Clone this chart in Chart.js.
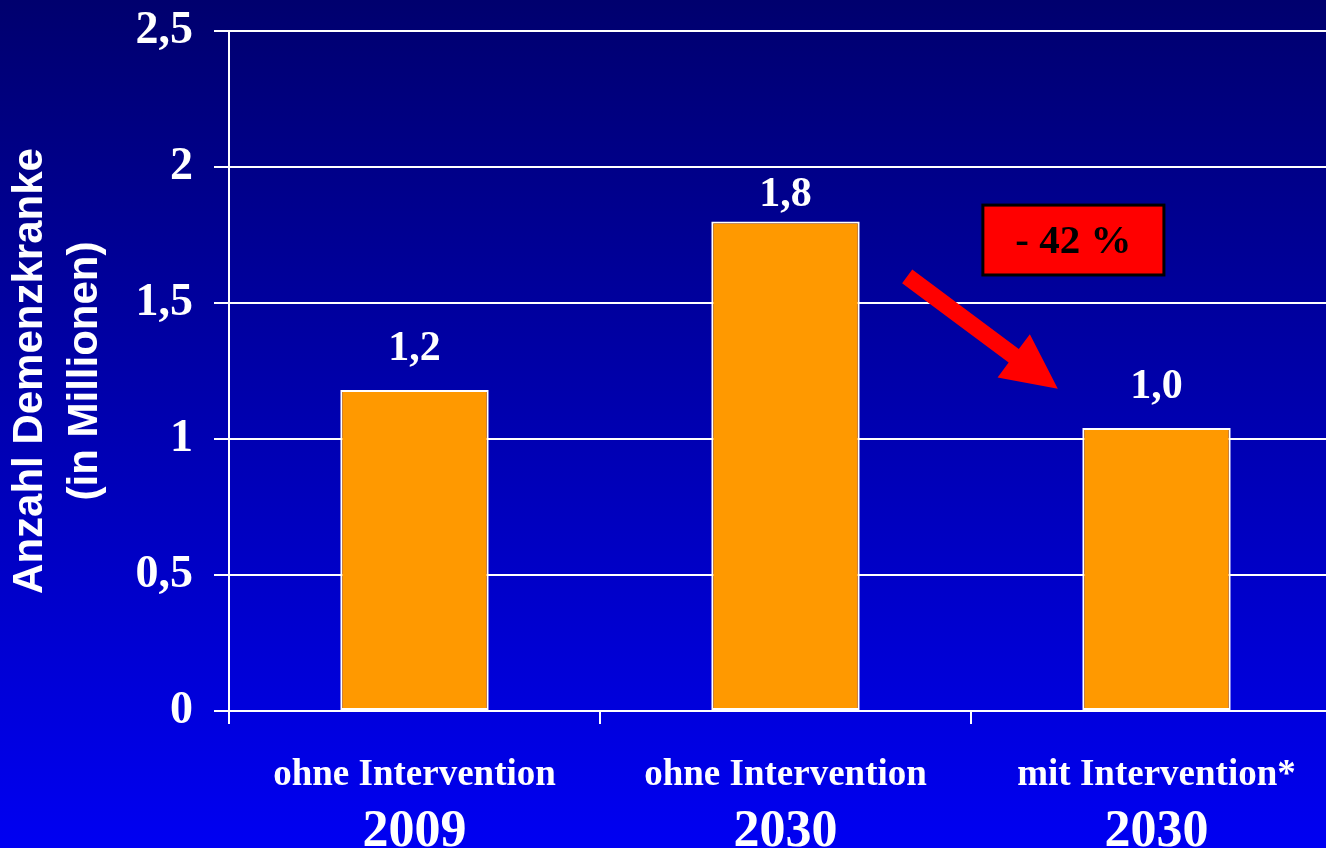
<!DOCTYPE html>
<html>
<head>
<meta charset="utf-8">
<script src="https://cdn.jsdelivr.net/npm/chart.js@4"></script>
<style>
  html, body { margin: 0; padding: 0; overflow: hidden; background: #0000b0; }
  #wrap { width: 1342px; height: 848px; }
</style>
</head>
<body>
<div id="wrap"><canvas id="c" width="1342" height="848"></canvas></div>
<script>
// ---- data ----
const categories = ['ohne Intervention', 'ohne Intervention', 'mit Intervention*'];
const years = ['2009', '2030', '2030'];
const values = [1.18, 1.80, 1.04];
const valueLabels = ['1,2', '1,8', '1,0'];
const yTicks = [0, 0.5, 1, 1.5, 2, 2.5];
const changeLabel = '- 42 %';

// ---- styles ----
const SERIF = '"Liberation Serif", "Times New Roman", serif';
const SANS = '"Liberation Sans", Arial, sans-serif';
const labelGap = [41, 26, 41];            // px above bar top for value labels
const boxArea = { x0: 1.532, x1: 2.020, y0: 1.860, y1: 1.603 };   // in scale units
const arrowFrom = { x: 1.328, y: 1.598 };
const arrowTo = { x: 1.734, y: 1.185 };

const bgPlugin = {
  id: 'bg',
  beforeDraw(chart) {
    const { ctx, width, height } = chart;
    const g = ctx.createLinearGradient(0, 0, 0, height);
    g.addColorStop(0, '#00006e');
    g.addColorStop(1, '#0000f2');
    ctx.save();
    ctx.fillStyle = g;
    ctx.fillRect(0, 0, width, height);
    ctx.restore();
  }
};

const overlayPlugin = {
  id: 'overlay',
  afterDatasetsDraw(chart) {
    const { ctx } = chart;
    const xs = chart.scales.x, ys = chart.scales.y;
    const meta = chart.getDatasetMeta(0);
    ctx.save();
    // value labels
    ctx.fillStyle = '#ffffff';
    ctx.font = 'bold 42px ' + SERIF;
    ctx.textAlign = 'center';
    ctx.textBaseline = 'middle';
    meta.data.forEach((bar, i) => {
      ctx.fillText(valueLabels[i], bar.x, bar.y - labelGap[i]);
    });
    // box
    const bx0 = xs.getPixelForValue(boxArea.x0), bx1 = xs.getPixelForValue(boxArea.x1);
    const by0 = ys.getPixelForValue(boxArea.y0), by1 = ys.getPixelForValue(boxArea.y1);
    ctx.fillStyle = '#ff0000';
    ctx.fillRect(bx0, by0, bx1 - bx0, by1 - by0);
    ctx.lineWidth = 3;
    ctx.strokeStyle = '#000000';
    ctx.strokeRect(bx0, by0, bx1 - bx0, by1 - by0);
    ctx.fillStyle = '#000000';
    ctx.font = 'bold 41px ' + SERIF;
    ctx.fillText(changeLabel, (bx0 + bx1) / 2, (by0 + by1) / 2 + 2);
    // arrow
    const ax0 = xs.getPixelForValue(arrowFrom.x), ay0 = ys.getPixelForValue(arrowFrom.y);
    const ax1 = xs.getPixelForValue(arrowTo.x), ay1 = ys.getPixelForValue(arrowTo.y);
    const len = Math.hypot(ax1 - ax0, ay1 - ay0);
    const ang = Math.atan2(ay1 - ay0, ax1 - ax0);
    const sw = 17, hw = 54, hl = 55;
    ctx.translate(ax0, ay0);
    ctx.rotate(ang);
    ctx.beginPath();
    ctx.moveTo(0, -sw / 2);
    ctx.lineTo(len - hl, -sw / 2);
    ctx.lineTo(len - hl, -hw / 2);
    ctx.lineTo(len, 0);
    ctx.lineTo(len - hl, hw / 2);
    ctx.lineTo(len - hl, sw / 2);
    ctx.lineTo(0, sw / 2);
    ctx.closePath();
    ctx.fillStyle = '#ff0000';
    ctx.fill();
    ctx.restore();
  }
};

new Chart(document.getElementById('c'), {
  type: 'bar',
  data: {
    labels: categories,
    datasets: [{
      data: values,
      xAxisID: 'x',
      yAxisID: 'y',
      backgroundColor: '#ff9900',
      borderColor: '#ffffff',
      borderWidth: 2,
      borderSkipped: false,
      barPercentage: 0.5,
      categoryPercentage: 0.8
    }]
  },
  options: {
    responsive: false,
    animation: false,
    events: [],
    layout: { padding: { top: 31, right: 0, bottom: 0, left: 0 } },
    plugins: { legend: { display: false }, tooltip: { enabled: false }, title: { display: false } },
    scales: {
      x: {
        type: 'category',
        position: 'bottom',
        weight: 0,
        offset: true,
        grid: { display: true, offset: true, drawOnChartArea: false, color: '#ffffff', lineWidth: 2, tickLength: 13, drawTicks: true },
        border: { display: true, color: '#ffffff', width: 2 },
        ticks: { color: '#ffffff', font: { family: SERIF, size: 37, weight: 'bold' }, padding: 29, maxRotation: 0, autoSkip: false },
        afterFit(s) { s.height = 86; s.paddingLeft = 0; s.paddingRight = 0; }
      },
      x2: {
        type: 'category',
        position: 'bottom',
        weight: 1,
        labels: years,
        offset: true,
        grid: { display: false, drawTicks: false },
        border: { display: false },
        ticks: { color: '#ffffff', font: { family: SERIF, size: 52, weight: 'bold' }, padding: 4, maxRotation: 0, autoSkip: false },
        afterFit(s) { s.height = 51; s.paddingLeft = 0; s.paddingRight = 0; }
      },
      y: {
        min: 0,
        max: 2.5,
        afterBuildTicks(s) { s.ticks = yTicks.map(v => ({ value: v })); },
        grid: { color: '#ffffff', lineWidth: 2, tickLength: 15, drawTicks: true },
        border: { display: true, color: '#ffffff', width: 2 },
        ticks: {
          color: '#ffffff',
          font: { family: SERIF, size: 46, weight: 'bold' },
          padding: 21,
          callback: v => String(v).replace('.', ',')
        },
        title: {
          display: true,
          text: ['Anzahl Demenzkranke', '(in Millionen)'],
          color: '#ffffff',
          font: { family: SANS, size: 42, weight: 'bold', lineHeight: 1.31 },
          padding: { top: 3, bottom: 0 }
        },
        afterFit(s) { s.width = 229; s.paddingTop = 0; s.paddingBottom = 0; }
      }
    }
  },
  plugins: [bgPlugin, overlayPlugin]
});
</script>
</body>
</html>
